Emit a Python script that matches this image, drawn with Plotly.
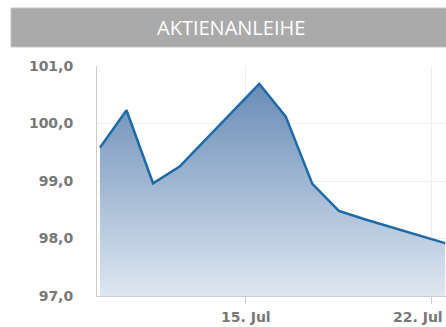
import plotly.graph_objects as go

# Daily closing quotes (noon timestamps), weekends omitted
dates = [
    "2024-07-09 12:00", "2024-07-10 12:00", "2024-07-11 12:00", "2024-07-12 12:00",
    "2024-07-15 12:00", "2024-07-16 12:00", "2024-07-17 12:00", "2024-07-18 12:00",
    "2024-07-19 12:00", "2024-07-22 12:00",
]
prices = [99.58, 100.23, 98.96, 99.25, 100.69, 100.12, 98.95, 98.48, 98.33, 97.92]

x_tick_vals = ["2024-07-15", "2024-07-22"]
x_tick_text = ["15. Jul", "22. Jul"]
y_tick_vals = [97, 98, 99, 100, 101]

title_text = "AKTIENANLEIHE"

fig = go.Figure()
fig.add_trace(go.Scatter(
    x=dates,
    y=prices,
    mode="lines",
    line=dict(color="#1c6aa8", width=2.5),
    fill="tozeroy",
    fillgradient=dict(
        type="vertical",
        start=97,
        stop=100.7,
        colorscale=[[0, "rgba(222,231,241,1)"], [1, "rgba(104,140,182,1)"]],
    ),
    hoverinfo="skip",
))

W, H = 446, 327
ml, mr, mt, mb = 97, 0, 66, 31
pw, ph = W - ml - mr, H - mt - mb


def px_x(p):
    return (p - ml) / pw


def px_y(p):
    return (H - mb - p) / ph


tick_font = dict(family="DejaVu Sans", size=14, color="#787878", weight="bold")

# date labels: centred under their ticks, the last one kept inside the right edge
date_labels = []
for i, (val, txt) in enumerate(zip(x_tick_vals, x_tick_text)):
    last = i == len(x_tick_vals) - 1
    date_labels.append(dict(
        text=txt,
        xref="paper" if last else "x",
        yref="paper",
        x=1 if last else val,
        y=px_y(316.5),
        xanchor="right" if last else "center",
        yanchor="middle",
        xshift=-1 if last else 0,
        showarrow=False,
        font=tick_font,
    ))

fig.update_layout(
    width=W,
    height=H,
    margin=dict(l=ml, r=mr, t=mt, b=mb, autoexpand=False),
    paper_bgcolor="white",
    plot_bgcolor="white",
    showlegend=False,
    separators=",.",
    xaxis=dict(
        range=["2024-07-09 09:20", "2024-07-22 12:50"],
        tickvals=x_tick_vals,
        showticklabels=False,
        ticks="outside",
        ticklen=7,
        tickcolor="#c8c8c8",
        tickwidth=1,
        automargin=False,
        showgrid=True,
        gridcolor="#eeeeee",
        showline=True,
        linecolor="#cccccc",
        linewidth=1,
        zeroline=False,
    ),
    yaxis=dict(
        range=[97, 101],
        tickvals=y_tick_vals,
        tickformat=".1f",
        ticks="outside",
        ticklen=20,
        tickcolor="rgba(0,0,0,0)",
        automargin=False,
        showgrid=True,
        gridcolor="#eeeeee",
        showline=True,
        linecolor="#cccccc",
        linewidth=1,
        zeroline=False,
        tickfont=tick_font,
    ),
    shapes=[dict(
        type="rect",
        xref="paper", yref="paper",
        x0=px_x(11), x1=px_x(447),
        y0=px_y(47), y1=px_y(8),
        fillcolor="#aaaaaa",
        line=dict(color="#c4c4c4", width=1),
        layer="above",
    )],
    annotations=[dict(
        text=title_text,
        xref="paper", yref="paper",
        x=px_x(230.5), y=px_y(27.5),
        xanchor="center", yanchor="middle",
        showarrow=False,
        font=dict(family="Open Sans", size=20, color="white"),
    )] + date_labels,
)

fig.write_html("out.html")
